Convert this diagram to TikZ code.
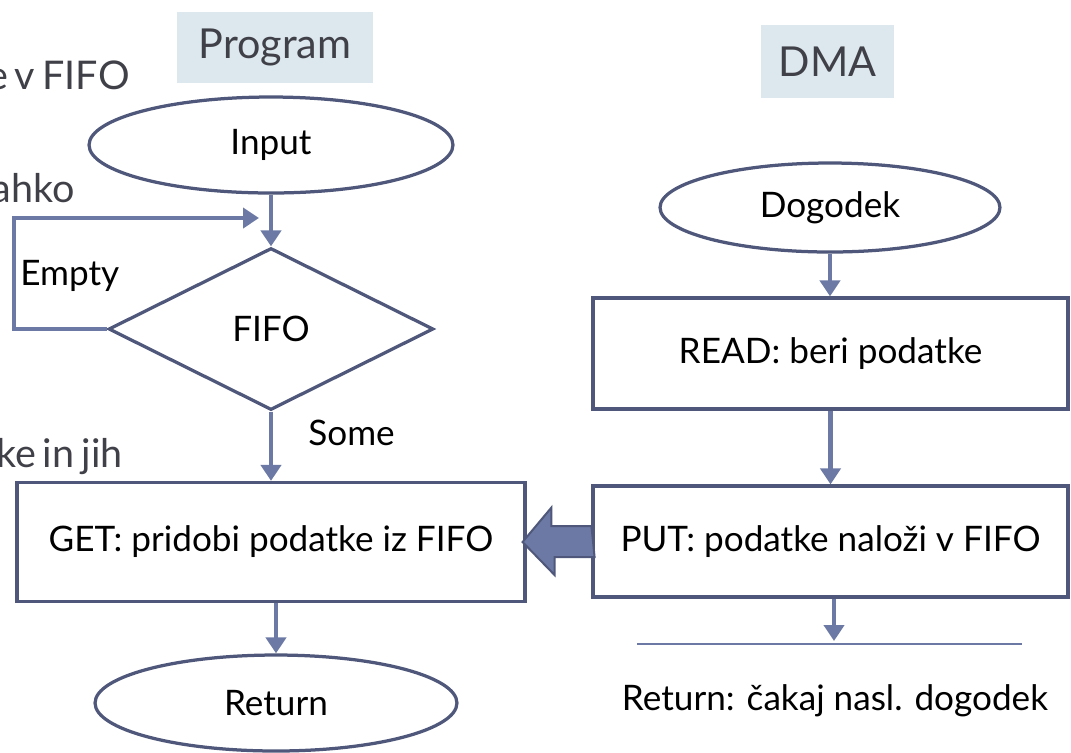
\documentclass[tikz,border=0pt]{standalone}
\usepackage{fontspec}
\setmainfont{Lato}
\newfontfamily\slidefont[WordSpace = 0.7]{Lato}
\usetikzlibrary{shapes.geometric,arrows.meta}

\definecolor{boxline}{HTML}{4F587A}
\definecolor{flowline}{HTML}{6C79A4}
\definecolor{tagfill}{HTML}{DDE8EE}
\definecolor{slidetext}{HTML}{404048}

\begin{document}
\begin{tikzpicture}[x = 0.02cm, y = -0.02cm,
  boxtext/.style = {font = \fontsize{20}{24}\selectfont, text = black},
  terminal/.style = {boxtext, ellipse, draw = boxline, line width = 0.065cm, inner sep = 0pt, minimum width = 7.28cm, minimum height = 1.92cm},
  decision/.style = {boxtext, diamond, draw = boxline, line width = 0.065cm, inner sep = 0pt, minimum width = 6.5cm, minimum height = 3.24cm},
  process/.style = {boxtext, rectangle, draw = boxline, line width = 0.065cm, inner sep = 0pt, minimum width = 9.5cm, minimum height = 2.22cm},
  tag/.style = {rectangle, fill = tagfill, text = slidetext, font = \fontsize{23.5}{28}\selectfont, inner sep = 0pt, minimum width = 3.92cm, minimum height = 1.42cm},
  slide/.style = {text = slidetext, font = \slidefont\fontsize{22.5}{27}\selectfont, inner sep = 0pt},
  flow/.style = {draw = flowline, line width = 0.095cm, -{Triangle[width = 0.4cm, length = 0.32cm]}},
  fatarrow/.style = {fill = flowline, draw = boxline, line width = 0.04cm, line join = miter}]
\useasboundingbox (0, 0) rectangle (1071, 752);
%\draw [help lines, step = 50] (0, 0) grid (1071, 752);

% slide text behind the chart
\node [slide, anchor = base east] (frag1) at (130, 89) {e v FIFO};
\node [slide, anchor = base east] (frag2) at (75, 202) {ahko};
\node [slide, anchor = base east] (frag3) at (123, 467) {ke in jih};

% Program
\node [tag] (progtag) at (275, 47.5) {Program};
\node [terminal] (input) at (271, 145) {Input};
\node [decision] (fifo) at (271, 329) {FIFO};
\node [process, minimum width = 10.16cm, minimum height = 2.38cm] (get) at (271, 542) {GET: pridobi podatke iz FIFO};
\node [terminal, minimum width = 7.24cm] (ret) at (276, 703) {Return};

\draw [flow] (input.south) -- (fifo.north);
\coordinate (emptyturn) at (14, 218);
\coordinate (emptyend) at (259, 218);
\draw [flow] (fifo.west) -| (emptyturn) -- (emptyend);
\node [boxtext, anchor = base west, inner sep = 0pt] (emptylbl) at (20, 285) {Empty};
\draw [flow] (fifo.south) -- (get.north);
\node [boxtext, anchor = base west, inner sep = 0pt] (somelbl) at (308, 445) {Some};
\draw [flow] (ret.north |- get.south) -- (ret.north);

% DMA
\node [tag, minimum width = 2.66cm, minimum height = 1.46cm] (dmatag) at (827.5, 61.5) {DMA};
\node [terminal, minimum width = 6.8cm, minimum height = 1.78cm] (dogodek) at (830, 207.5) {Dogodek};
\node [process] (read) at (830.5, 353.5) {READ: beri podatke};
\node [process] (put) at (830.5, 541.5) {PUT: podatke naloži v FIFO};

\draw [flow] (dogodek.south) -- (dogodek.south |- read.north);
\draw [flow] (read.south) -- (put.north);
\coordinate (endleft) at (637, 644);
\coordinate (endright) at (1022, 644);
\coordinate (endmid) at (834, 641);
\draw [draw = flowline, line width = 0.04cm] (endleft) -- (endright);
\draw [flow] (put.south -| endmid) -- (endmid);
\node [boxtext, anchor = base, inner sep = 0pt] (waitlbl) at (835, 710) {Return: čakaj nasl. dogodek};

% PUT hands data over to GET
\filldraw [fatarrow] (put.west) ++(0, -15.5) -- ++(-40, 0) -- ++(0, -18.5)
  -- ([xshift = -0.08cm]get.east) -- ++(32, 33) -- ++(0, -18) -- ++(40, 0) -- cycle;
\end{tikzpicture}
\end{document}
